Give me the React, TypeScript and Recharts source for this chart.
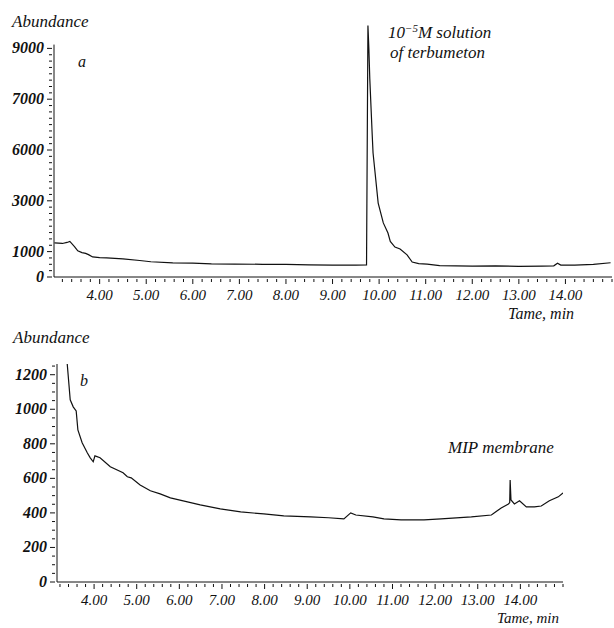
import React from "react";
import { LineChart, Line, XAxis, YAxis, ReferenceLine } from "recharts";

// panel a: 10^-5 M terbumeton solution
const timesA = [
  3.03, 3.2, 3.3, 3.36, 3.46, 3.53, 3.62, 3.7, 3.76, 3.85, 4.0, 4.15, 4.5, 4.86, 5.1, 5.57, 6.0, 6.4, 6.9,
  7.5, 8.0, 8.5, 9.0, 9.5, 9.73, 9.76, 9.78, 9.8, 9.85, 9.87, 9.98, 10.09, 10.19, 10.24, 10.34, 10.45,
  10.6, 10.71, 10.85, 11.03, 11.3, 12.0, 12.5, 13.0, 13.5, 13.75, 13.83, 13.9, 14.2, 14.6, 14.97,
];
const abundanceA = [
  1340, 1320, 1360, 1400, 1200, 1030, 960, 930, 880, 790, 760, 750, 710, 650, 600, 560, 550, 520, 510,
  500, 500, 480, 470, 470, 480, 9900, 9000, 7800, 5670, 4880, 2910, 2130, 1730, 1400, 1180, 1100,
  870, 590, 530, 510, 450, 430, 440, 420, 430, 440, 540, 470, 470, 500, 560,
];

// panel b: MIP membrane
const timesB = [
  3.37, 3.44, 3.51, 3.58, 3.62, 3.72, 3.84, 3.91, 3.98, 4.02, 4.14, 4.38, 4.68, 4.78, 4.87,
  5.08, 5.32, 5.55, 5.79, 6.19, 6.49, 6.96, 7.44, 7.98, 8.45, 9.08, 9.5, 9.86, 10.02, 10.14, 10.54, 10.8,
  11.2, 11.74, 12.14, 12.85, 13.32, 13.55, 13.72, 13.75, 13.76, 13.78, 13.86, 13.98, 14.14, 14.33,
  14.49, 14.68, 14.89, 15.0,
];
const abundanceB = [
  1262, 1055, 1014, 990, 880, 806, 748, 719, 696, 730, 719, 667, 632, 609, 603,
  562, 528, 510, 487, 464, 446, 423, 406, 394, 383, 377, 372, 365, 400, 388, 377, 365,
  360, 360, 365, 377, 388, 429, 452, 460, 590, 475, 452, 470, 435, 435,
  440, 470, 493, 516,
];

const xMajor = [4, 5, 6, 7, 8, 9, 10, 11, 12, 13, 14];
const xMajorLabels = ["4.00", "5.00", "6.00", "7.00", "8.00", "9.00", "10.00", "11.00", "12.00", "13.00", "14.00"];

const yMajorA = [0, 1000, 3000, 5000, 7000, 9000];
const yMajorLabelsA = ["0", "1000", "3000", "6000", "7000", "9000"];

const yMajorB = [0, 200, 400, 600, 800, 1000, 1200];
const yMajorLabelsB = ["0", "200", "400", "600", "800", "1000", "1200"];

const rowsA = timesA.map((t, i) => ({ t, v: abundanceA[i] }));
const rowsB = timesB.map((t, i) => ({ t, v: abundanceB[i] }));

const X_MIN_A = 3.02;
const X_MIN_B = 3.13;
const X_MAX = 15;

function steps(from: number, to: number, step: number) {
  const out: number[] = [];
  for (let i = 0; from + i * step <= to + 1e-9; i++) out.push(Math.round((from + i * step) * 1000) / 1000);
  return out;
}

const findLabel = (v: number, majors: number[], labels: string[]) => {
  const i = majors.findIndex((m) => Math.abs(m - v) < 1e-6);
  return i >= 0 ? labels[i] : null;
};

const ink = "#111";
const font = "Tinos, 'Liberation Serif', 'Times New Roman', 'DejaVu Serif', serif";

const makeXTick = (dy: number, size: number) => (props: any) => {
  const { x, y, payload } = props;
  const label = findLabel(payload.value, xMajor, xMajorLabels);
  return (
    <g>
      <line x1={x} y1={y} x2={x} y2={y + (label ? 5 : 3)} stroke={ink} strokeWidth={1} />
      {label && (
        <text x={x} y={y + dy} textAnchor="middle" fill={ink} fontSize={size} fontStyle="italic" style={{ fontFamily: font }}>
          {label}
        </text>
      )}
    </g>
  );
};

const makeYTick = (majors: number[], labels: string[]) => (props: any) => {
  const { x, y, payload } = props;
  const label = findLabel(payload.value, majors, labels);
  return (
    <g>
      <line x1={x} y1={y} x2={x - (label ? 5 : 3)} y2={y} stroke={ink} strokeWidth={1} />
      {label && (
        <text
          x={x - 8}
          y={y + 5}
          textAnchor="end"
          fill={ink}
          fontSize={16}
          fontStyle="italic"
          fontWeight="bold"
          style={{ fontFamily: font }}
        >
          {label}
        </text>
      )}
    </g>
  );
};

const txt = (left: number, top: number, size: number, extra: React.CSSProperties = {}): React.CSSProperties => ({
  position: "absolute",
  left,
  top,
  fontSize: size,
  lineHeight: 1,
  fontStyle: "italic",
  fontFamily: font,
  color: ink,
  whiteSpace: "nowrap",
  ...extra,
});

export default function App() {
  return (
    <div style={{ position: "absolute", left: 0, top: 0, width: 614, height: 628, background: "#fff", overflow: "hidden" }}>
      <div style={{ position: "absolute", left: 0, top: 0 }}>
        <LineChart width={614} height={330} data={rowsA} margin={{ top: 23, right: 2, bottom: 0, left: 0 }}>
          <XAxis
            dataKey="t"
            type="number"
            domain={[X_MIN_A, X_MAX]}
            allowDataOverflow
            ticks={steps(3.2, 15, 0.2)}
            interval={0}
            tickSize={0}
            tickLine={false}
            axisLine={{ stroke: ink }}
            tick={makeXTick(21, 15)}
            height={53}
          />
          <YAxis
            type="number"
            domain={[0, 10000]}
            allowDataOverflow
            ticks={steps(0, 9000, 250)}
            interval={0}
            tickSize={0}
            tickLine={false}
            axisLine={false}
            tick={makeYTick(yMajorA, yMajorLabelsA)}
            width={54}
          />
          <ReferenceLine
            segment={[
              { x: X_MIN_A, y: 0 },
              { x: X_MIN_A, y: 9150 },
            ]}
            stroke={ink}
          />
          <Line dataKey="v" type="linear" stroke={ink} strokeWidth={1.2} dot={false} isAnimationActive={false} />
        </LineChart>
      </div>

      <div style={{ position: "absolute", left: 0, top: 330 }}>
        <LineChart width={614} height={298} data={rowsB} margin={{ top: 34, right: 51, bottom: 0, left: 0 }}>
          <XAxis
            dataKey="t"
            type="number"
            domain={[X_MIN_B, X_MAX]}
            allowDataOverflow
            ticks={steps(3.2, 15, 0.2)}
            interval={0}
            tickSize={0}
            tickLine={false}
            axisLine={{ stroke: ink }}
            tick={makeXTick(21, 15)}
            height={46}
          />
          <YAxis
            type="number"
            domain={[0, 1262]}
            allowDataOverflow
            ticks={steps(0, 1250, 50)}
            interval={0}
            tickSize={0}
            tickLine={false}
            axisLine={{ stroke: ink }}
            tick={makeYTick(yMajorB, yMajorLabelsB)}
            width={57}
          />
          <Line dataKey="v" type="linear" stroke={ink} strokeWidth={1.2} dot={false} isAnimationActive={false} />
        </LineChart>
      </div>

      <div style={txt(12, 13, 17)}>Abundance</div>
      <div style={txt(78, 54, 16)}>a</div>
      <div style={txt(388, 23, 17)}>
        10<sup style={{ fontSize: 11, verticalAlign: "6px" }}>−5</sup>M solution
      </div>
      <div style={txt(390, 44, 17)}>of terbumeton</div>
      <div style={txt(508, 306, 16)}>Tame, min</div>

      <div style={txt(13, 329, 17)}>Abundance</div>
      <div style={txt(80, 373, 16)}>b</div>
      <div style={txt(448, 439, 17)}>MIP membrane</div>
      <div style={txt(497, 611, 15)}>Tame, min</div>
    </div>
  );
}
